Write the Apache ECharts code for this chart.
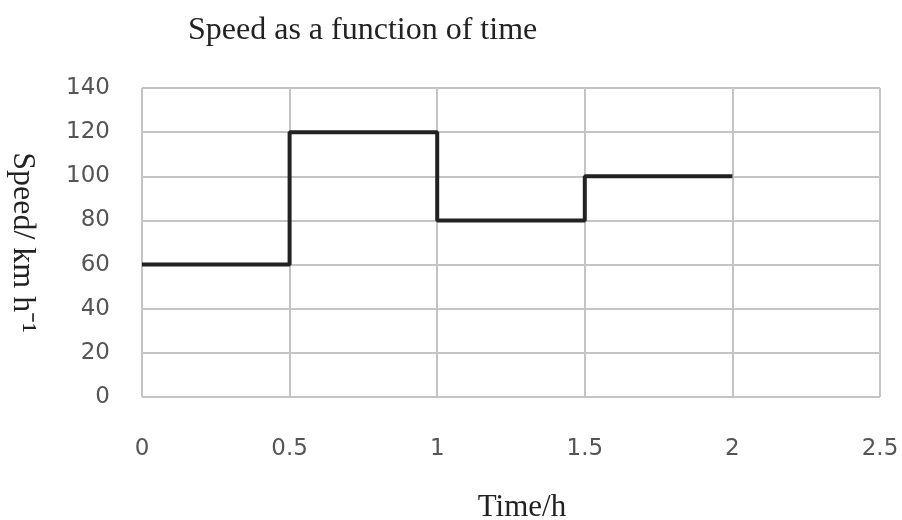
<!DOCTYPE html>
<html><head><meta charset="utf-8">
<script src="https://cdn.jsdelivr.net/npm/echarts@6/dist/echarts.min.js"></script>
<style>html,body{margin:0;padding:0;background:#fff}#c{width:902px;height:520px}</style>
</head><body><div id="c"></div>
<script>
const times = [0, 0.5, 1, 1.5, 2];
const speeds = [60, 120, 80, 100, 100];
const xTicks = [0, 0.5, 1, 1.5, 2, 2.5];
const yTicks = [0, 20, 40, 60, 80, 100, 120, 140];
const titleText = 'Speed as a function of time';
const xName = 'Time/h';
const yName = 'Speed/ km h\u207B\u00B9';

const chart = echarts.init(document.getElementById('c'), null, {renderer: 'canvas'});
const gridColor = '#c4c4c4';
const labelStyle = {color: '#555', fontFamily: 'DejaVu Sans', fontSize: 23};
chart.setOption({
  animation: false,
  backgroundColor: '#fff',
  title: {
    text: titleText, left: 183, top: 10,
    textStyle: {fontFamily: 'Liberation Serif', fontWeight: 'normal', fontSize: 32, color: '#222'}
  },
  grid: {left: 142, right: 22, top: 88, bottom: 123, outerBoundsMode: 'none', containLabel: false},
  xAxis: {
    type: 'value', min: xTicks[0], max: xTicks[xTicks.length - 1], interval: 0.5,
    name: xName, nameLocation: 'middle', nameGap: 95,
    nameTextStyle: {fontFamily: 'Liberation Serif', fontSize: 31, color: '#222', padding: [0, 0, 0, 22]},
    axisLine: {show: false}, axisTick: {show: false},
    axisLabel: Object.assign({margin: 41}, labelStyle),
    splitLine: {show: true, lineStyle: {color: gridColor, width: 2}}
  },
  yAxis: {
    type: 'value', min: yTicks[0], max: yTicks[yTicks.length - 1], interval: 20,
    name: yName, nameLocation: 'middle', nameGap: 104, nameRotate: -90,
    nameTextStyle: {fontFamily: 'Liberation Serif', fontSize: 32, color: '#222', padding: [0, 0, 10, 0]},
    axisLine: {show: false}, axisTick: {show: false},
    axisLabel: Object.assign({margin: 32}, labelStyle),
    splitLine: {show: true, lineStyle: {color: gridColor, width: 2}}
  },
  series: [{
    type: 'line', step: 'end', symbol: 'none',
    data: times.map((t, i) => [t, speeds[i]]),
    lineStyle: {color: '#222', width: 4}
  }]
});
</script></body></html>
